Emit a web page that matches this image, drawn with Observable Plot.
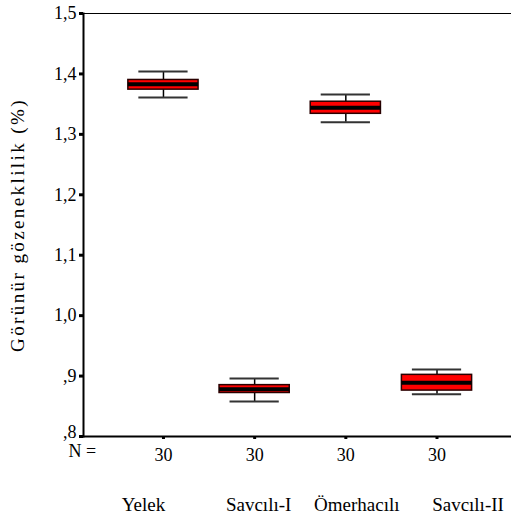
<!DOCTYPE html>
<html>
<head>
<meta charset="utf-8">
<script src="https://cdn.jsdelivr.net/npm/d3@7"></script>
<script src="https://cdn.jsdelivr.net/npm/@observablehq/plot@0.6"></script>
<style>
  html, body { margin: 0; padding: 0; background: #fff; }
  svg { display: block; }
</style>
</head>
<body>
<div id="chart"></div>
<script>
const categories = ["Yelek", "Savcılı-I", "Ömerhacılı", "Savcılı-II"];
const nCounts = [30, 30, 30, 30];
const whiskerLow = [1.361, 0.858, 1.320, 0.870];
const q1 = [1.374, 0.872, 1.334, 0.876];
const median = [1.383, 0.878, 1.344, 0.889];
const q3 = [1.390, 0.885, 1.354, 0.902];
const whiskerHigh = [1.404, 0.896, 1.366, 0.911];
const yTicks = [0.9, 1.0, 1.1, 1.2, 1.3, 1.4, 1.5];
const yTickBottom = [0.8];
const yLabel = "Görünür gözeneklilik (%)";

// layout / style constants
const boxHalf = 0.385;
const capHalf = 0.27;
const labelShift = [-20, 4, 11, 31];

const data = categories.map((c, i) => ({
  idx: i + 1, cat: c, n: nCounts[i],
  lo: whiskerLow[i], q1: q1[i], med: median[i], q3: q3[i], hi: whiskerHigh[i]
}));

const fmt = d => {
  let s = d.toFixed(1).replace(".", ",");
  if (s.startsWith("0")) s = s.slice(1);
  return s;
};

const font = "'Liberation Serif', 'Times New Roman', 'DejaVu Serif', serif";

const plot = Plot.plot({
  width: 511,
  height: 526,
  marginLeft: 83,
  marginRight: 0,
  marginTop: 13,
  marginBottom: 90,
  style: { fontFamily: font, fontSize: "18px", color: "#000", background: "#fff" },
  x: { type: "linear", domain: [0.123, 4.817], axis: null },
  y: { domain: [0.8, 1.5], axis: null },
  marks: [
    Plot.frame({ anchor: "top", stroke: "#000", strokeWidth: 1 }),
    Plot.frame({ anchor: "bottom", stroke: "#000", strokeWidth: 2 }),
    Plot.frame({ anchor: "left", stroke: "#000", strokeWidth: 2 }),
    Plot.axisY({
      ticks: yTicks, tickFormat: fmt, tickSize: 4, tickPadding: 3,
      strokeWidth: 3, fontSize: 18, fontFamily: font,
      label: yLabel, labelAnchor: "center", labelArrow: "none", labelOffset: 73
    }),
    Plot.axisY({
      ticks: yTickBottom, tickFormat: null, text: null, tickSize: 4, strokeWidth: 3, label: null
    }),
    Plot.axisY({
      ticks: yTickBottom, tickFormat: fmt, tickSize: 0, tickPadding: 7, dy: -4,
      fontSize: 18, fontFamily: font, label: null
    }),
    Plot.axisX({
      ticks: data.map(d => d.idx), tickFormat: i => String(nCounts[i - 1]),
      tickSize: 3, tickPadding: 9, strokeWidth: 3, fontSize: 18, fontFamily: font, label: null
    }),
    ...data.map((d, i) => Plot.text([d], {
      x: "idx", text: "cat", frameAnchor: "bottom", lineAnchor: "top",
      dx: labelShift[i], dy: 61, fontSize: 19, fontFamily: font, fill: "#000"
    })),
    Plot.text(["N ="], { frameAnchor: "bottom-left", dx: -15, dy: 20, textAnchor: "start", fontSize: 18, fontFamily: font }),
    Plot.ruleX(data, { x: "idx", y1: "lo", y2: "q1", stroke: "#000", strokeWidth: 1.5 }),
    Plot.ruleX(data, { x: "idx", y1: "q3", y2: "hi", stroke: "#000", strokeWidth: 1.5 }),
    Plot.ruleY(data, { y: "lo", x1: d => d.idx - capHalf, x2: d => d.idx + capHalf, stroke: "#333", strokeWidth: 2 }),
    Plot.ruleY(data, { y: "hi", x1: d => d.idx - capHalf, x2: d => d.idx + capHalf, stroke: "#333", strokeWidth: 2 }),
    Plot.rect(data, {
      x1: d => d.idx - boxHalf, x2: d => d.idx + boxHalf, y1: "q1", y2: "q3",
      fill: "#ff0000", stroke: "#2a0000", strokeWidth: 1.5
    }),
    Plot.ruleY(data, { y: "med", x1: d => d.idx - boxHalf, x2: d => d.idx + boxHalf, stroke: "#000", strokeWidth: 4 })
  ]
});

d3.select(plot).selectAll("text")
  .filter(function () { return this.textContent === yLabel; })
  .style("font-size", "19px")
  .style("letter-spacing", "2.4px");

document.getElementById("chart").appendChild(plot);
</script>
</body>
</html>
